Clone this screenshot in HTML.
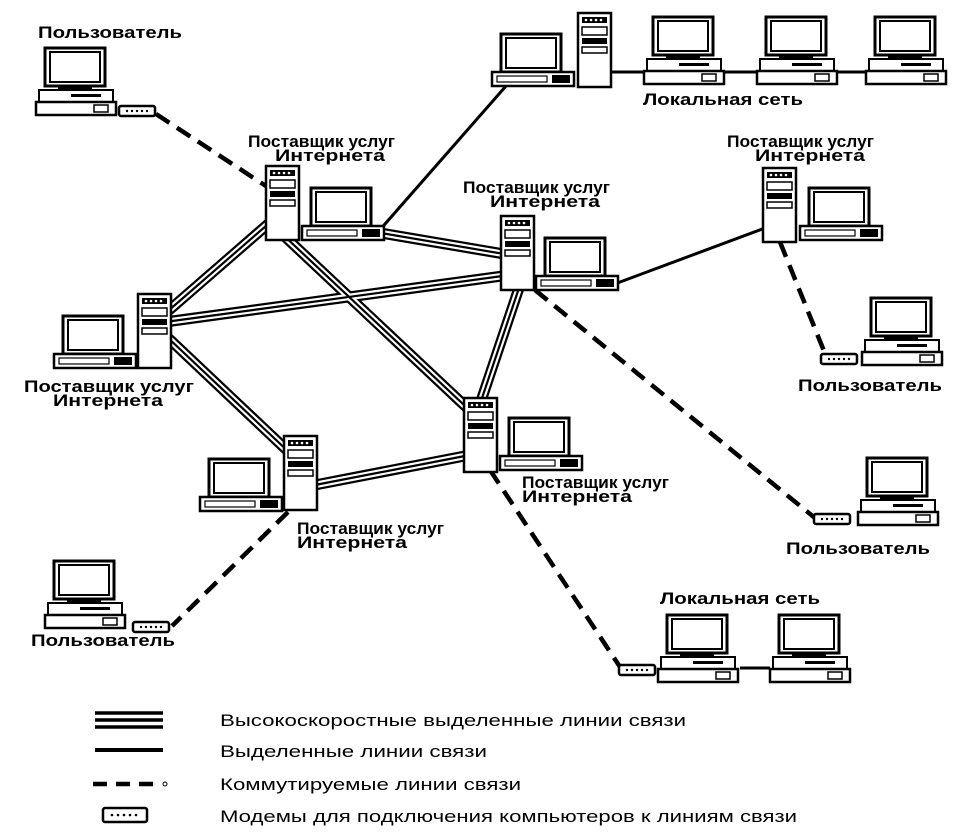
<!DOCTYPE html>
<html><head><meta charset="utf-8"><style>
html,body{margin:0;padding:0;background:#fff;}
svg{display:block}
text{font-family:"Liberation Sans",sans-serif;font-size:17px;fill:#000;font-weight:bold}
text.l{font-weight:normal;font-size:17px}
</style></head><body>
<svg width="966" height="834" viewBox="0 0 966 834" xmlns="http://www.w3.org/2000/svg">
<defs>
<g id="upc">
 <rect x="9" y="1" width="60" height="38" fill="#fff" stroke="#000" stroke-width="3"/>
 <rect x="14" y="5" width="50" height="30" fill="#fff" stroke="#000" stroke-width="2"/>
 <rect x="22" y="39" width="34" height="4" fill="#000"/>
 <rect x="3" y="43" width="74" height="12" fill="#fff" stroke="#000" stroke-width="2"/>
 <rect x="35" y="47" width="30" height="3" fill="#000"/>
 <rect x="0" y="55" width="80" height="13" fill="#fff" stroke="#000" stroke-width="2.5"/>
 <rect x="58" y="58" width="14" height="7" fill="none" stroke="#000" stroke-width="1.5"/>
</g>
<g id="ipc">
 <rect x="9" y="1" width="60" height="38" fill="#fff" stroke="#000" stroke-width="3"/>
 <rect x="14" y="5" width="50" height="30" fill="#fff" stroke="#000" stroke-width="2"/>
 <rect x="0" y="39" width="82" height="14" fill="#fff" stroke="#000" stroke-width="2.5"/>
 <rect x="5" y="43" width="50" height="6" fill="none" stroke="#000" stroke-width="1.2"/>
 <rect x="60" y="42" width="18" height="8" fill="#000"/>
</g>
<g id="tw">
 <rect x="1" y="1" width="33" height="74" fill="#fff" stroke="#000" stroke-width="2.5"/>
 <rect x="5" y="5" width="25" height="6" fill="#000"/>
 <circle cx="9" cy="8" r="1.3" fill="#fff"/><circle cx="14" cy="8" r="1.3" fill="#fff"/><circle cx="19" cy="8" r="1.3" fill="#fff"/><circle cx="24" cy="8" r="1.3" fill="#fff"/>
 <rect x="5" y="15" width="25" height="8" fill="none" stroke="#000" stroke-width="1.5"/>
 <rect x="5" y="26" width="25" height="6" fill="#000"/>
 <rect x="5" y="35" width="25" height="6" fill="none" stroke="#000" stroke-width="1.5"/>
</g>
<g id="md">
 <rect x="1" y="1" width="36" height="10" rx="2" fill="#fff" stroke="#000" stroke-width="2.5"/>
 <circle cx="9" cy="6" r="1.2"/><circle cx="14" cy="6" r="1.2"/><circle cx="19" cy="6" r="1.2"/><circle cx="24" cy="6" r="1.2"/><circle cx="29" cy="6" r="1.2"/>
</g>
</defs>

<g fill="none" stroke-linecap="butt">
 <g stroke="#000" stroke-width="11">
  <path d="M282 212 L160 318"/><path d="M280 232 L480 420"/><path d="M375 232 L510 255"/>
  <path d="M165 322 L510 275"/><path d="M165 335 L292 455"/><path d="M315 485 L470 455"/>
  <path d="M520 285 L478 410"/>
 </g>
 <g stroke="#fff" stroke-width="6.5">
  <path d="M282 212 L160 318"/><path d="M280 232 L480 420"/><path d="M375 232 L510 255"/>
  <path d="M165 322 L510 275"/><path d="M165 335 L292 455"/><path d="M315 485 L470 455"/>
  <path d="M520 285 L478 410"/>
 </g>
 <g stroke="#000" stroke-width="2.2">
  <path d="M282 212 L160 318"/><path d="M280 232 L480 420"/><path d="M375 232 L510 255"/>
  <path d="M165 322 L510 275"/><path d="M165 335 L292 455"/><path d="M315 485 L470 455"/>
  <path d="M520 285 L478 410"/>
 </g>
 <g stroke="#000" stroke-width="3">
  <path d="M378 232 L506 86"/><path d="M612 285 L765 228"/><path d="M612 72 L940 72"/><path d="M740 668 L770 668"/>
 </g>
 <g stroke="#000" stroke-width="4.5" stroke-dasharray="16,9">
  <path d="M156 114 L272 190"/><path d="M780 242 L826 356"/><path d="M535 290 L815 518"/>
  <path d="M490 470 L622 670"/><path d="M288 512 L172 626"/>
 </g>
</g>

<use href="#upc" x="36" y="47"/><use href="#md" x="118" y="105"/>
<text x="38" y="38" textLength="144" lengthAdjust="spacingAndGlyphs">Пользователь</text>

<use href="#tw" x="265" y="165"/><use href="#ipc" x="302" y="187"/>
<text x="248" y="147" textLength="147" lengthAdjust="spacingAndGlyphs">Поставщик услуг</text><text x="275" y="161" textLength="110" lengthAdjust="spacingAndGlyphs">Интернета</text>

<use href="#ipc" x="492" y="33"/><use href="#tw" x="577" y="12"/>
<use href="#upc" x="644" y="16"/><use href="#upc" x="757" y="16"/><use href="#upc" x="866" y="16"/>
<text x="643" y="105" textLength="160" lengthAdjust="spacingAndGlyphs">Локальная сеть</text>

<use href="#tw" x="500" y="215"/><use href="#ipc" x="536" y="237"/>
<text x="463" y="193" textLength="147" lengthAdjust="spacingAndGlyphs">Поставщик услуг</text><text x="490" y="207" textLength="110" lengthAdjust="spacingAndGlyphs">Интернета</text>

<use href="#tw" x="762" y="167"/><use href="#ipc" x="800" y="187"/>
<text x="727" y="147" textLength="147" lengthAdjust="spacingAndGlyphs">Поставщик услуг</text><text x="755" y="161" textLength="110" lengthAdjust="spacingAndGlyphs">Интернета</text>

<use href="#upc" x="862" y="297"/><use href="#md" x="820" y="353"/>
<text x="798" y="391" textLength="144" lengthAdjust="spacingAndGlyphs">Пользователь</text>

<use href="#tw" x="137" y="293"/><use href="#ipc" x="54" y="315"/>
<text x="24" y="392" textLength="170" lengthAdjust="spacingAndGlyphs">Поставщик услуг</text><text x="53" y="406" textLength="110" lengthAdjust="spacingAndGlyphs">Интернета</text>

<use href="#tw" x="463" y="397"/><use href="#ipc" x="500" y="417"/>
<text x="522" y="488" textLength="147" lengthAdjust="spacingAndGlyphs">Поставщик услуг</text><text x="522" y="502" textLength="110" lengthAdjust="spacingAndGlyphs">Интернета</text>

<use href="#tw" x="283" y="435"/><use href="#ipc" x="200" y="458"/>
<text x="297" y="534" textLength="147" lengthAdjust="spacingAndGlyphs">Поставщик услуг</text><text x="297" y="548" textLength="110" lengthAdjust="spacingAndGlyphs">Интернета</text>

<use href="#upc" x="858" y="457"/><use href="#md" x="813" y="513"/>
<text x="786" y="554" textLength="144" lengthAdjust="spacingAndGlyphs">Пользователь</text>

<use href="#upc" x="45" y="560"/><use href="#md" x="132" y="621"/>
<text x="31" y="646" textLength="144" lengthAdjust="spacingAndGlyphs">Пользователь</text>

<text x="660" y="604" textLength="160" lengthAdjust="spacingAndGlyphs">Локальная сеть</text>
<use href="#upc" x="658" y="614"/><use href="#upc" x="770" y="614"/><use href="#md" x="618" y="664"/>

<g fill="none" stroke="#000">
 <path d="M95 713 H163 M95 720 H163 M95 727 H163" stroke-width="3.5"/>
 <path d="M95 750 H163" stroke-width="4"/>
 <path d="M93 784 H160" stroke-width="4.5" stroke-dasharray="14,9"/>
</g>
<circle cx="165" cy="784" r="2" fill="none" stroke="#000"/>
<rect x="103" y="808" width="44" height="14" rx="2" fill="#fff" stroke="#000" stroke-width="2.5"/>
<g fill="#000"><circle cx="112" cy="815" r="1.3"/><circle cx="118" cy="815" r="1.3"/><circle cx="124" cy="815" r="1.3"/><circle cx="130" cy="815" r="1.3"/><circle cx="136" cy="815" r="1.3"/></g>
<text class="l" x="220" y="726" textLength="466" lengthAdjust="spacingAndGlyphs">Высокоскоростные выделенные линии связи</text>
<text class="l" x="220" y="757" textLength="267" lengthAdjust="spacingAndGlyphs">Выделенные линии связи</text>
<text class="l" x="220" y="790" textLength="301" lengthAdjust="spacingAndGlyphs">Коммутируемые линии связи</text>
<text class="l" x="220" y="822" textLength="577" lengthAdjust="spacingAndGlyphs">Модемы для подключения компьютеров к линиям связи</text>
</svg>
</body></html>
